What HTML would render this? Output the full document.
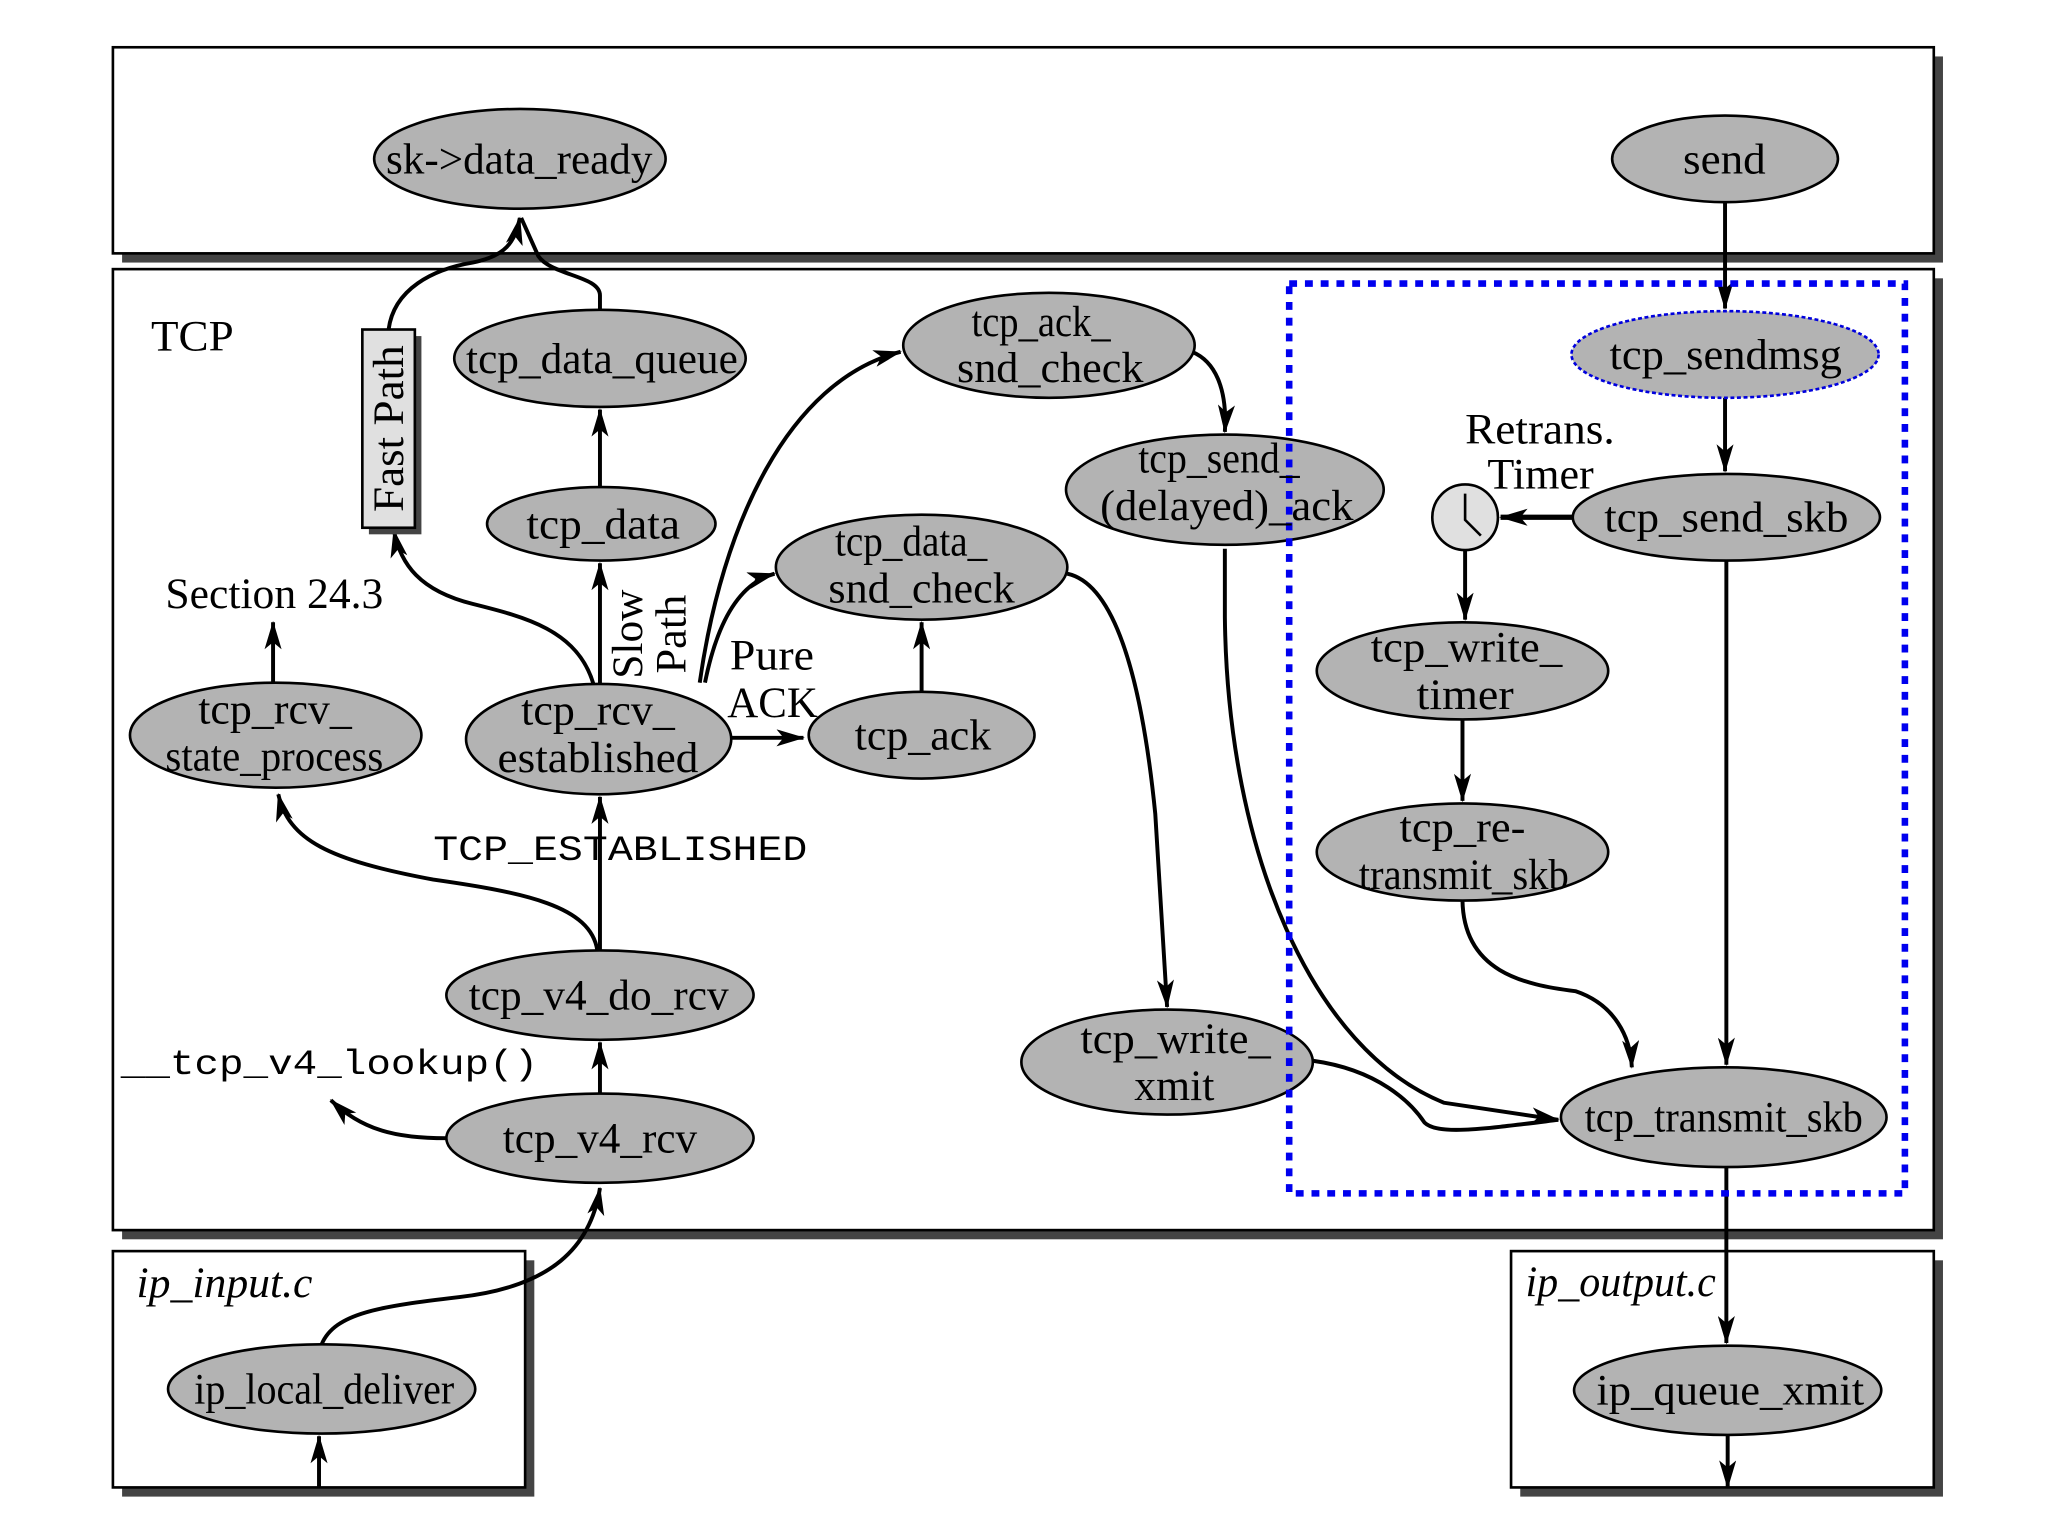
<!DOCTYPE html>
<html><head><meta charset="utf-8"><style>
html,body{margin:0;padding:0;background:#fff;}
svg{display:block;}
text{font-family:"Liberation Serif",serif;font-size:33px;fill:#000;}
.m{font-family:"Liberation Mono",monospace;font-size:27px;}
.i{font-style:italic;}
</style></head><body>
<svg width="2048" height="1536" viewBox="0 0 1560 1170" preserveAspectRatio="none" xmlns="http://www.w3.org/2000/svg">
<defs>
<marker id="ah" viewBox="0 0 20 12" refX="19" refY="6" markerWidth="22" markerHeight="13" markerUnits="userSpaceOnUse" orient="auto">
<path d="M0,0 L20,6 L0,12 L5,6 Z" fill="#000"/></marker>
</defs>
<g fill="#444">
<rect x="93" y="43" width="1387" height="157"/>
<rect x="93" y="212" width="1387" height="732"/>
<rect x="93" y="960" width="314" height="180"/>
<rect x="1158" y="960" width="322" height="180"/>
</g>
<g fill="#fff" stroke="#000" stroke-width="2">
<rect x="86" y="36" width="1387" height="157"/>
<rect x="86" y="205" width="1387" height="732"/>
<rect x="86" y="953" width="314" height="180"/>
<rect x="1151" y="953" width="322" height="180"/>
</g>
<g fill="none" stroke="#000" stroke-width="3">
<path d="M296,251 C300,220 330,205 360,200 C385,195 392,185 396,166" marker-end="url(#ah)"/>
<path d="M457,236 L457,225 C457,210 420,210 410,195 L397,166"/>
<path d="M457,371 L457,312" marker-end="url(#ah)"/>
<path d="M457,521 L457,429" marker-end="url(#ah)"/>
<path d="M452,521 C440,480 400,470 360,460 C320,450 305,430 300,404" marker-end="url(#ah)"/>
<path d="M533,520 C550,400 600,290 686,268" marker-end="url(#ah)"/>
<path d="M537,520 C545,480 560,445 590,437" marker-end="url(#ah)"/>
<path d="M557,562 L612,562" marker-end="url(#ah)"/>
<path d="M702,527 L702,474" marker-end="url(#ah)"/>
<path d="M908,268 C925,275 935,295 933,329" marker-end="url(#ah)"/>
<path d="M813,437 C850,445 870,520 880,620 L889,767" marker-end="url(#ah)"/>
<path d="M933,418 L933,470 C935,650 1000,800 1100,840 L1187,853" marker-end="url(#ah)"/>
<path d="M1000,808 C1050,815 1075,840 1085,855 C1095,865 1130,860 1187,853"/>
<path d="M1114,686 C1115,740 1160,750 1200,755 C1230,765 1242,790 1243,813" marker-end="url(#ah)"/>
<path d="M1315,427 L1315,811" marker-end="url(#ah)"/>
<path d="M1314,154 L1314,235" marker-end="url(#ah)"/>
<path d="M1314,303 L1314,359" marker-end="url(#ah)"/>
<path d="M1198,394 L1143,394" stroke-width="4" marker-end="url(#ah)"/>
<path d="M1116,419 L1116,472" marker-end="url(#ah)"/>
<path d="M1114,548 L1114,610" marker-end="url(#ah)"/>
<path d="M1315,889 L1315,1023" marker-end="url(#ah)"/>
<path d="M1316,1093 L1316,1133" marker-end="url(#ah)"/>
<path d="M243,1133 L243,1094" marker-end="url(#ah)"/>
<path d="M245,1024 C255,1000 290,995 350,988 C420,980 450,950 457,905" marker-end="url(#ah)"/>
<path d="M457,833 L457,794" marker-end="url(#ah)"/>
<path d="M340,867 C300,867 275,860 252,838" marker-end="url(#ah)"/>
<path d="M457,724 L457,607" marker-end="url(#ah)"/>
<path d="M455,724 C450,690 400,680 330,670 C250,655 220,640 212,605" marker-end="url(#ah)"/>
<path d="M208,520 L208,474" marker-end="url(#ah)"/>
</g>
<g fill="#b3b3b3" stroke="#000" stroke-width="2">
<ellipse cx="396" cy="121" rx="111" ry="38"/>
<ellipse cx="1314" cy="121" rx="86" ry="33"/>
<ellipse cx="1314" cy="270" rx="117" ry="33" stroke="#0000dd" stroke-dasharray="3,2"/>
<ellipse cx="457" cy="273" rx="111" ry="37"/>
<ellipse cx="799" cy="263" rx="111" ry="40"/>
<ellipse cx="933" cy="373" rx="121" ry="42"/>
<ellipse cx="458" cy="399" rx="87" ry="28"/>
<ellipse cx="1315" cy="394" rx="117" ry="33"/>
<ellipse cx="702" cy="432" rx="111" ry="40"/>
<ellipse cx="1114" cy="511" rx="111" ry="37"/>
<ellipse cx="210" cy="560" rx="111" ry="40"/>
<ellipse cx="456" cy="563" rx="101" ry="42"/>
<ellipse cx="702" cy="560" rx="86" ry="33"/>
<ellipse cx="1114" cy="649" rx="111" ry="37"/>
<ellipse cx="457" cy="758" rx="117" ry="34"/>
<ellipse cx="889" cy="809" rx="111" ry="40"/>
<ellipse cx="1313" cy="851" rx="124" ry="38"/>
<ellipse cx="457" cy="867" rx="117" ry="34"/>
<ellipse cx="245" cy="1058" rx="117" ry="34"/>
<ellipse cx="1316" cy="1059" rx="117" ry="34"/>
</g>
<circle cx="1116" cy="394" r="25" fill="#e0e0e0" stroke="#000" stroke-width="2"/>
<path d="M1116,376 L1116,396 L1128,408" fill="none" stroke="#000" stroke-width="2"/>
<rect x="281" y="256" width="40" height="151" fill="#444"/>
<rect x="276" y="251" width="40" height="151" fill="#e0e0e0" stroke="#000" stroke-width="2"/>
<text transform="translate(307,390) rotate(-90)" textLength="127" lengthAdjust="spacingAndGlyphs">Fast Path</text>
<text transform="translate(489,517) rotate(-90)" textLength="68" lengthAdjust="spacingAndGlyphs">Slow</text>
<text transform="translate(522,513) rotate(-90)" textLength="60" lengthAdjust="spacingAndGlyphs">Path</text>
<rect x="982" y="216" width="469" height="693" fill="none" stroke="#0000ee" stroke-width="5" stroke-dasharray="6,6"/>
<g>
<text x="294" y="132" textLength="203" lengthAdjust="spacingAndGlyphs">sk-&gt;data_ready</text>
<text x="1282" y="132" textLength="63" lengthAdjust="spacingAndGlyphs">send</text>
<text x="1226" y="281" textLength="177" lengthAdjust="spacingAndGlyphs">tcp_sendmsg</text>
<text x="115" y="267" textLength="63" lengthAdjust="spacingAndGlyphs">TCP</text>
<text x="355" y="284" textLength="207" lengthAdjust="spacingAndGlyphs">tcp_data_queue</text>
<text x="740" y="256" textLength="106" lengthAdjust="spacingAndGlyphs">tcp_ack_</text>
<text x="729" y="291" textLength="142" lengthAdjust="spacingAndGlyphs">snd_check</text>
<text x="867" y="360" textLength="123" lengthAdjust="spacingAndGlyphs">tcp_send_</text>
<text x="838" y="396" textLength="193" lengthAdjust="spacingAndGlyphs">(delayed)_ack</text>
<text x="1116" y="338" textLength="114" lengthAdjust="spacingAndGlyphs">Retrans.</text>
<text x="1133" y="372" textLength="81" lengthAdjust="spacingAndGlyphs">Timer</text>
<text x="401" y="410" textLength="117" lengthAdjust="spacingAndGlyphs">tcp_data</text>
<text x="1222" y="405" textLength="186" lengthAdjust="spacingAndGlyphs">tcp_send_skb</text>
<text x="636" y="423" textLength="116" lengthAdjust="spacingAndGlyphs">tcp_data_</text>
<text x="631" y="459" textLength="142" lengthAdjust="spacingAndGlyphs">snd_check</text>
<text x="126" y="463" textLength="166" lengthAdjust="spacingAndGlyphs">Section 24.3</text>
<text x="556" y="510" textLength="64" lengthAdjust="spacingAndGlyphs">Pure</text>
<text x="554" y="546" textLength="69" lengthAdjust="spacingAndGlyphs">ACK</text>
<text x="1044" y="504" textLength="146" lengthAdjust="spacingAndGlyphs">tcp_write_</text>
<text x="1079" y="540" textLength="74" lengthAdjust="spacingAndGlyphs">timer</text>
<text x="151" y="551" textLength="117" lengthAdjust="spacingAndGlyphs">tcp_rcv_</text>
<text x="126" y="587" textLength="166" lengthAdjust="spacingAndGlyphs">state_process</text>
<text x="397" y="552" textLength="117" lengthAdjust="spacingAndGlyphs">tcp_rcv_</text>
<text x="379" y="588" textLength="153" lengthAdjust="spacingAndGlyphs">established</text>
<text x="651" y="571" textLength="104" lengthAdjust="spacingAndGlyphs">tcp_ack</text>
<text class="m" x="330" y="655" textLength="285" lengthAdjust="spacingAndGlyphs">TCP_ESTABLISHED</text>
<text x="1066" y="641" textLength="96" lengthAdjust="spacingAndGlyphs">tcp_re-</text>
<text x="1035" y="677" textLength="160" lengthAdjust="spacingAndGlyphs">transmit_skb</text>
<text x="357" y="769" textLength="198" lengthAdjust="spacingAndGlyphs">tcp_v4_do_rcv</text>
<text x="823" y="802" textLength="145" lengthAdjust="spacingAndGlyphs">tcp_write_</text>
<text x="864" y="838" textLength="61" lengthAdjust="spacingAndGlyphs">xmit</text>
<text class="m" x="92" y="818" textLength="318" lengthAdjust="spacingAndGlyphs">__tcp_v4_lookup()</text>
<text x="1207" y="862" textLength="212" lengthAdjust="spacingAndGlyphs">tcp_transmit_skb</text>
<text x="383" y="878" textLength="148" lengthAdjust="spacingAndGlyphs">tcp_v4_rcv</text>
<text class="i" x="104" y="988" textLength="134" lengthAdjust="spacingAndGlyphs">ip_input.c</text>
<text class="i" x="1162" y="987" textLength="145" lengthAdjust="spacingAndGlyphs">ip_output.c</text>
<text x="148" y="1069" textLength="198" lengthAdjust="spacingAndGlyphs">ip_local_deliver</text>
<text x="1216" y="1070" textLength="204" lengthAdjust="spacingAndGlyphs">ip_queue_xmit</text>
</g>
</svg>
</body></html>
